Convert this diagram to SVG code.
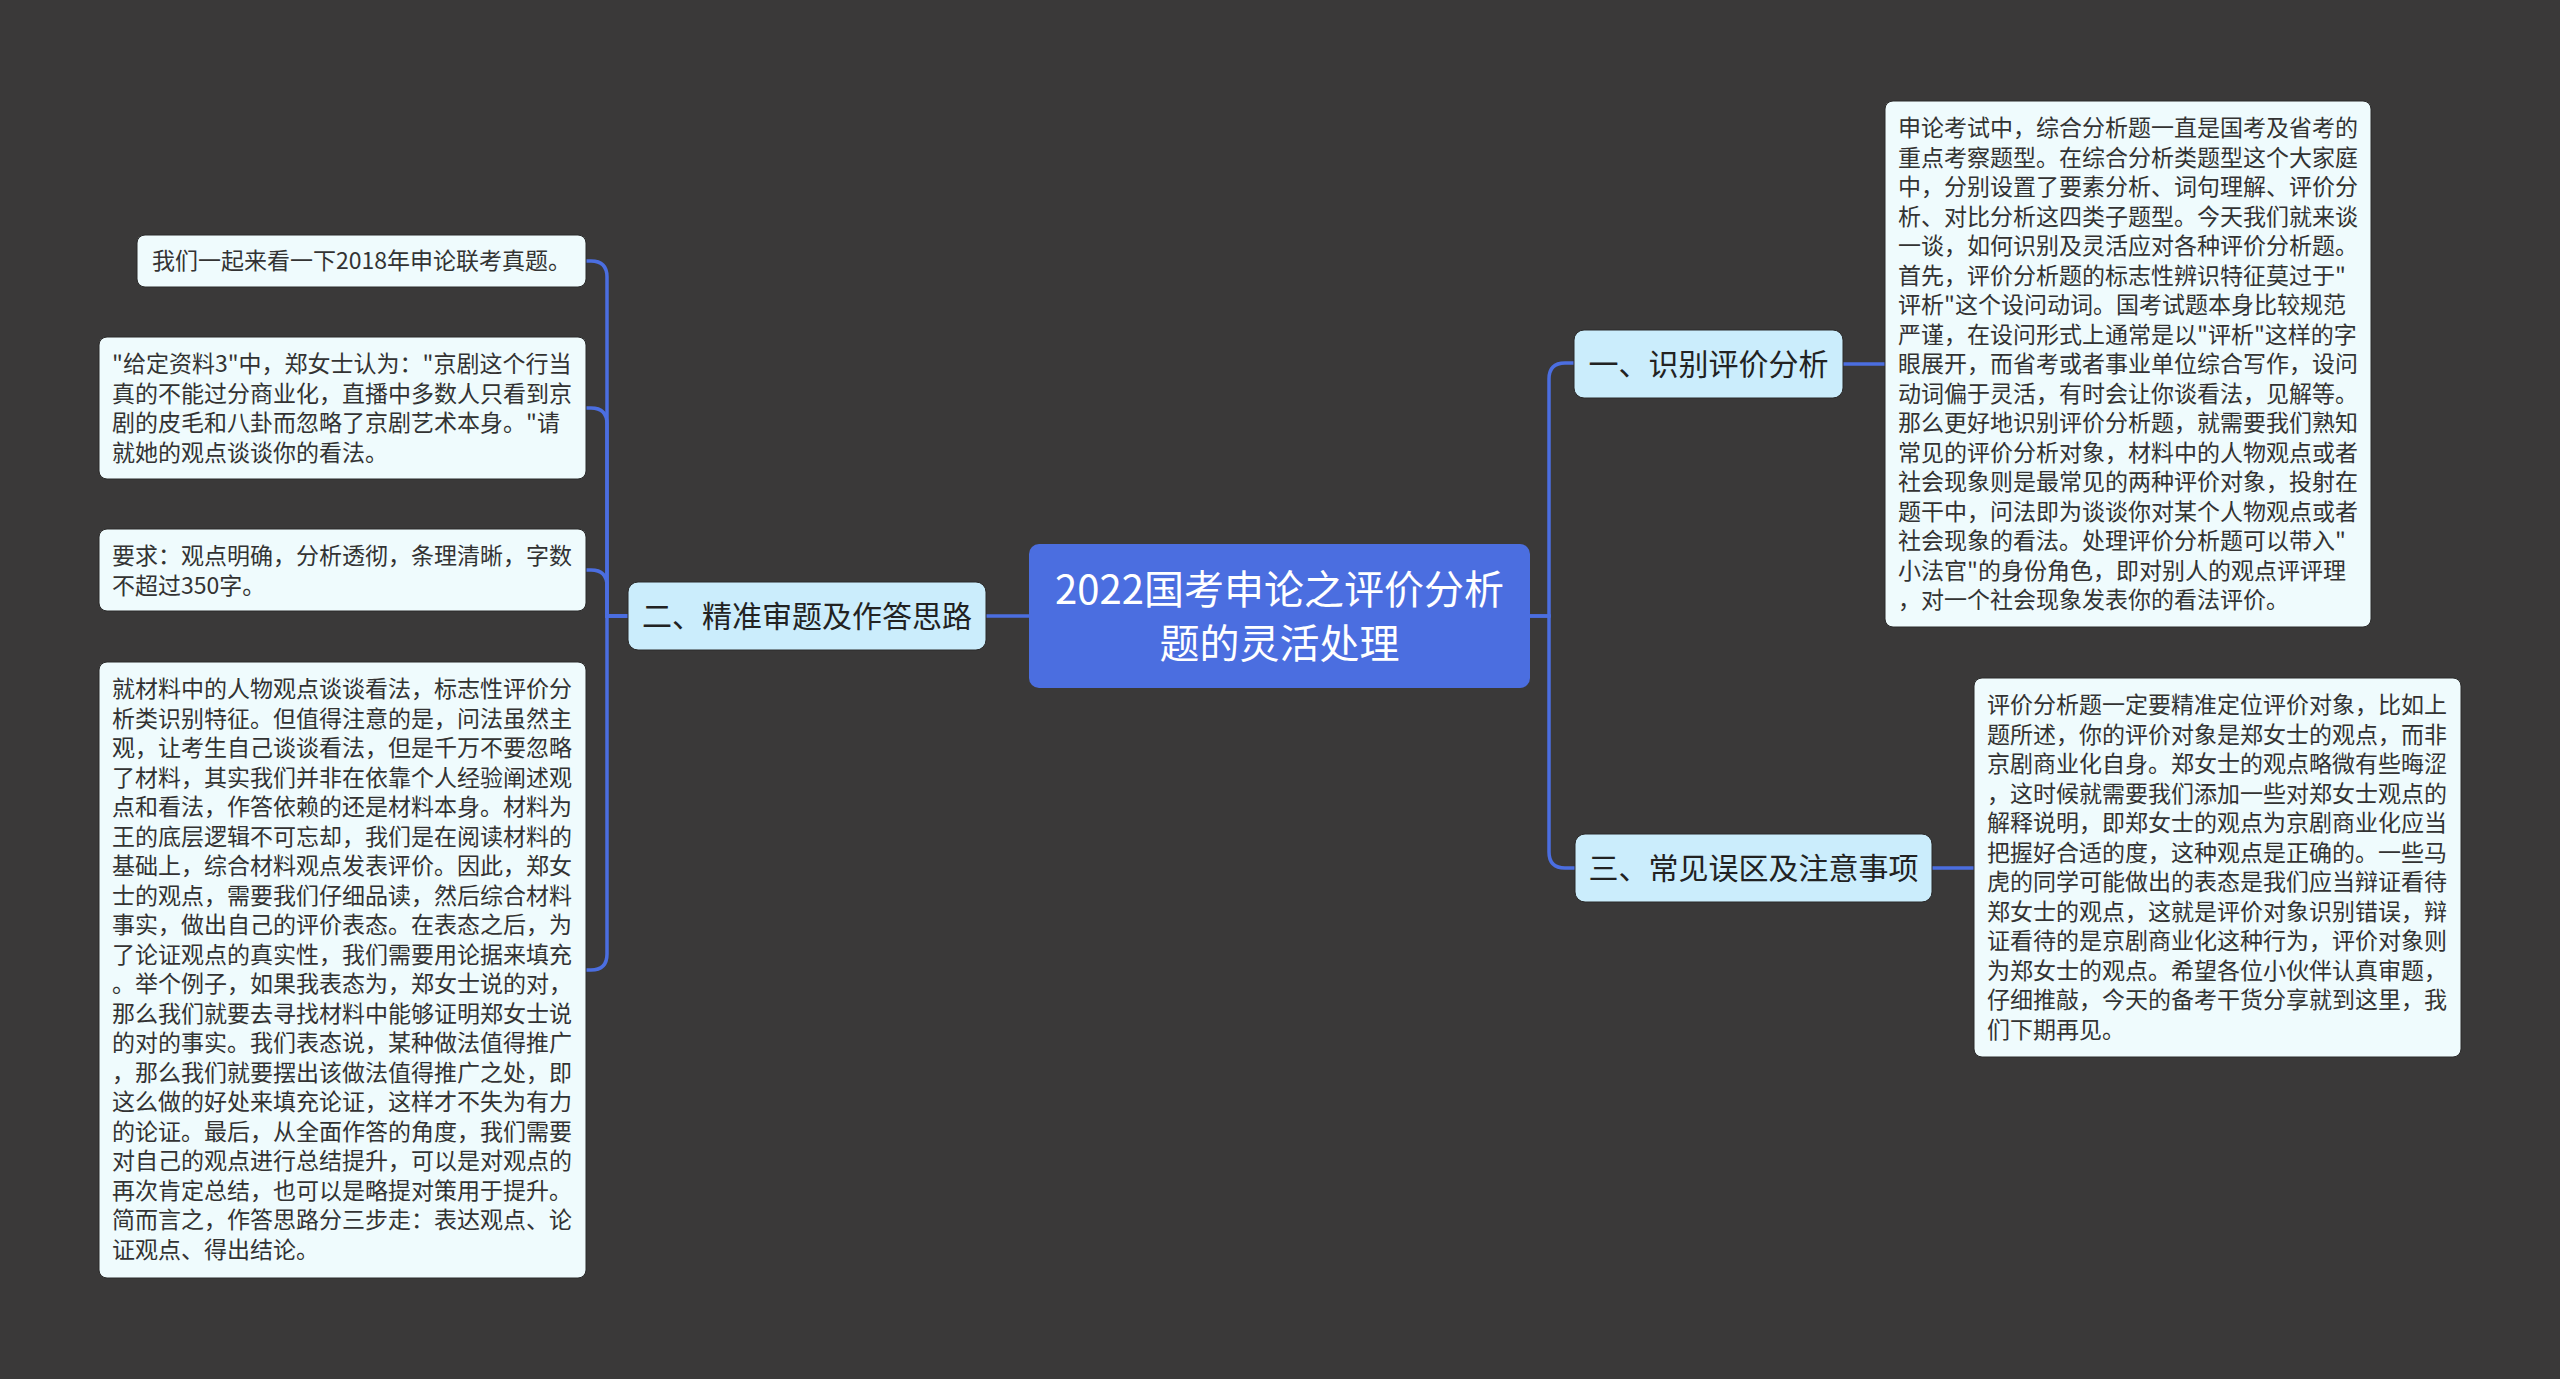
<svg xmlns="http://www.w3.org/2000/svg" width="2560" height="1379" viewBox="0 0 2560 1379">
<style>
.bg{fill:#3a3939}
.conn path{fill:none;stroke:#4b6ee0;stroke-width:3.5}
.root rect{fill:#4b6ee0}
.root text{fill:#ffffff;font-size:40px;text-anchor:middle}
.l1 rect{fill:#cbedfc;stroke:#2a2a2a;stroke-width:1}
.l1 text{fill:#222;font-size:30px;text-anchor:middle}
.leaf rect{fill:#effbfd;stroke:#2a2a2a;stroke-width:1}
.leaf text{fill:#333;font-size:23px}
text{font-family:"Noto Sans CJK SC","Noto Sans",sans-serif}
</style>
<rect class="bg" x="0" y="0" width="2560" height="1379"/>
<g id="connectors" class="conn">
<path d="M1530 616 H1549 V379 Q1549 363 1565 363 H1574"/>
<path d="M1530 616 H1549 V852 Q1549 868 1565 868 H1575"/>
<path d="M1029 616 H986"/>
<path d="M1843 364 H1885"/>
<path d="M1932 868 H1974"/>
<path d="M628 616 H607 V277 Q607 261 591 261 H586"/>
<path d="M628 616 H607 V424 Q607 408 591 408 H586"/>
<path d="M628 616 H607 V586 Q607 570 591 570 H586"/>
<path d="M628 616 H607 V954 Q607 970 591 970 H586"/>
</g>
<g id="root" class="root">
<rect x="1029" y="544" width="501" height="144" rx="10"/>
<text x="1279.5" y="604">2022国考申论之评价分析</text>
<text x="1279.5" y="658">题的灵活处理</text>
</g>
<g id="n1" class="l1">
<rect x="1574" y="330" width="269" height="68" rx="10"/>
<text x="1708.5" y="375">一、识别评价分析</text>
</g>
<g id="n2" class="l1">
<rect x="628" y="582" width="358" height="68" rx="10"/>
<text x="807" y="627">二、精准审题及作答思路</text>
</g>
<g id="n3" class="l1">
<rect x="1575" y="834" width="357" height="68" rx="10"/>
<text x="1753.5" y="879">三、常见误区及注意事项</text>
</g>
<g id="leafL1" class="leaf">
<rect x="137" y="235" width="449" height="52" rx="8"/>
<text x="152" y="269">我们一起来看一下2018年申论联考真题。</text>
</g>
<g id="leafL2" class="leaf">
<rect x="99" y="337" width="487" height="142" rx="8"/>
<text x="112" y="372"><tspan x="112">"给定资料3"中，郑女士认为："京剧这个行当</tspan><tspan x="112" dy="29.5">真的不能过分商业化，直播中多数人只看到京</tspan><tspan x="112" dy="29.5">剧的皮毛和八卦而忽略了京剧艺术本身。"请</tspan><tspan x="112" dy="29.5">就她的观点谈谈你的看法。</tspan></text>
</g>
<g id="leafL3" class="leaf">
<rect x="99" y="529" width="487" height="82" rx="8"/>
<text x="112" y="564"><tspan x="112">要求：观点明确，分析透彻，条理清晰，字数</tspan><tspan x="112" dy="29.5">不超过350字。</tspan></text>
</g>
<g id="leafL4" class="leaf">
<rect x="99" y="662" width="487" height="616" rx="8"/>
<text x="112" y="697"><tspan x="112">就材料中的人物观点谈谈看法，标志性评价分</tspan><tspan x="112" dy="29.5">析类识别特征。但值得注意的是，问法虽然主</tspan><tspan x="112" dy="29.5">观，让考生自己谈谈看法，但是千万不要忽略</tspan><tspan x="112" dy="29.5">了材料，其实我们并非在依靠个人经验阐述观</tspan><tspan x="112" dy="29.5">点和看法，作答依赖的还是材料本身。材料为</tspan><tspan x="112" dy="29.5">王的底层逻辑不可忘却，我们是在阅读材料的</tspan><tspan x="112" dy="29.5">基础上，综合材料观点发表评价。因此，郑女</tspan><tspan x="112" dy="29.5">士的观点，需要我们仔细品读，然后综合材料</tspan><tspan x="112" dy="29.5">事实，做出自己的评价表态。在表态之后，为</tspan><tspan x="112" dy="29.5">了论证观点的真实性，我们需要用论据来填充</tspan><tspan x="112" dy="29.5">。举个例子，如果我表态为，郑女士说的对，</tspan><tspan x="112" dy="29.5">那么我们就要去寻找材料中能够证明郑女士说</tspan><tspan x="112" dy="29.5">的对的事实。我们表态说，某种做法值得推广</tspan><tspan x="112" dy="29.5">，那么我们就要摆出该做法值得推广之处，即</tspan><tspan x="112" dy="29.5">这么做的好处来填充论证，这样才不失为有力</tspan><tspan x="112" dy="29.5">的论证。最后，从全面作答的角度，我们需要</tspan><tspan x="112" dy="29.5">对自己的观点进行总结提升，可以是对观点的</tspan><tspan x="112" dy="29.5">再次肯定总结，也可以是略提对策用于提升。</tspan><tspan x="112" dy="29.5">简而言之，作答思路分三步走：表达观点、论</tspan><tspan x="112" dy="29.5">证观点、得出结论。</tspan></text>
</g>
<g id="leafR1" class="leaf">
<rect x="1885" y="101" width="486" height="526" rx="8"/>
<text x="1898" y="136"><tspan x="1898">申论考试中，综合分析题一直是国考及省考的</tspan><tspan x="1898" dy="29.5">重点考察题型。在综合分析类题型这个大家庭</tspan><tspan x="1898" dy="29.5">中，分别设置了要素分析、词句理解、评价分</tspan><tspan x="1898" dy="29.5">析、对比分析这四类子题型。今天我们就来谈</tspan><tspan x="1898" dy="29.5">一谈，如何识别及灵活应对各种评价分析题。</tspan><tspan x="1898" dy="29.5">首先，评价分析题的标志性辨识特征莫过于"</tspan><tspan x="1898" dy="29.5">评析"这个设问动词。国考试题本身比较规范</tspan><tspan x="1898" dy="29.5">严谨，在设问形式上通常是以"评析"这样的字</tspan><tspan x="1898" dy="29.5">眼展开，而省考或者事业单位综合写作，设问</tspan><tspan x="1898" dy="29.5">动词偏于灵活，有时会让你谈看法，见解等。</tspan><tspan x="1898" dy="29.5">那么更好地识别评价分析题，就需要我们熟知</tspan><tspan x="1898" dy="29.5">常见的评价分析对象，材料中的人物观点或者</tspan><tspan x="1898" dy="29.5">社会现象则是最常见的两种评价对象，投射在</tspan><tspan x="1898" dy="29.5">题干中，问法即为谈谈你对某个人物观点或者</tspan><tspan x="1898" dy="29.5">社会现象的看法。处理评价分析题可以带入"</tspan><tspan x="1898" dy="29.5">小法官"的身份角色，即对别人的观点评评理</tspan><tspan x="1898" dy="29.5">，对一个社会现象发表你的看法评价。</tspan></text>
</g>
<g id="leafR2" class="leaf">
<rect x="1974" y="678" width="487" height="379" rx="8"/>
<text x="1987" y="713"><tspan x="1987">评价分析题一定要精准定位评价对象，比如上</tspan><tspan x="1987" dy="29.5">题所述，你的评价对象是郑女士的观点，而非</tspan><tspan x="1987" dy="29.5">京剧商业化自身。郑女士的观点略微有些晦涩</tspan><tspan x="1987" dy="29.5">，这时候就需要我们添加一些对郑女士观点的</tspan><tspan x="1987" dy="29.5">解释说明，即郑女士的观点为京剧商业化应当</tspan><tspan x="1987" dy="29.5">把握好合适的度，这种观点是正确的。一些马</tspan><tspan x="1987" dy="29.5">虎的同学可能做出的表态是我们应当辩证看待</tspan><tspan x="1987" dy="29.5">郑女士的观点，这就是评价对象识别错误，辩</tspan><tspan x="1987" dy="29.5">证看待的是京剧商业化这种行为，评价对象则</tspan><tspan x="1987" dy="29.5">为郑女士的观点。希望各位小伙伴认真审题，</tspan><tspan x="1987" dy="29.5">仔细推敲，今天的备考干货分享就到这里，我</tspan><tspan x="1987" dy="29.5">们下期再见。</tspan></text>
</g>
</svg>
